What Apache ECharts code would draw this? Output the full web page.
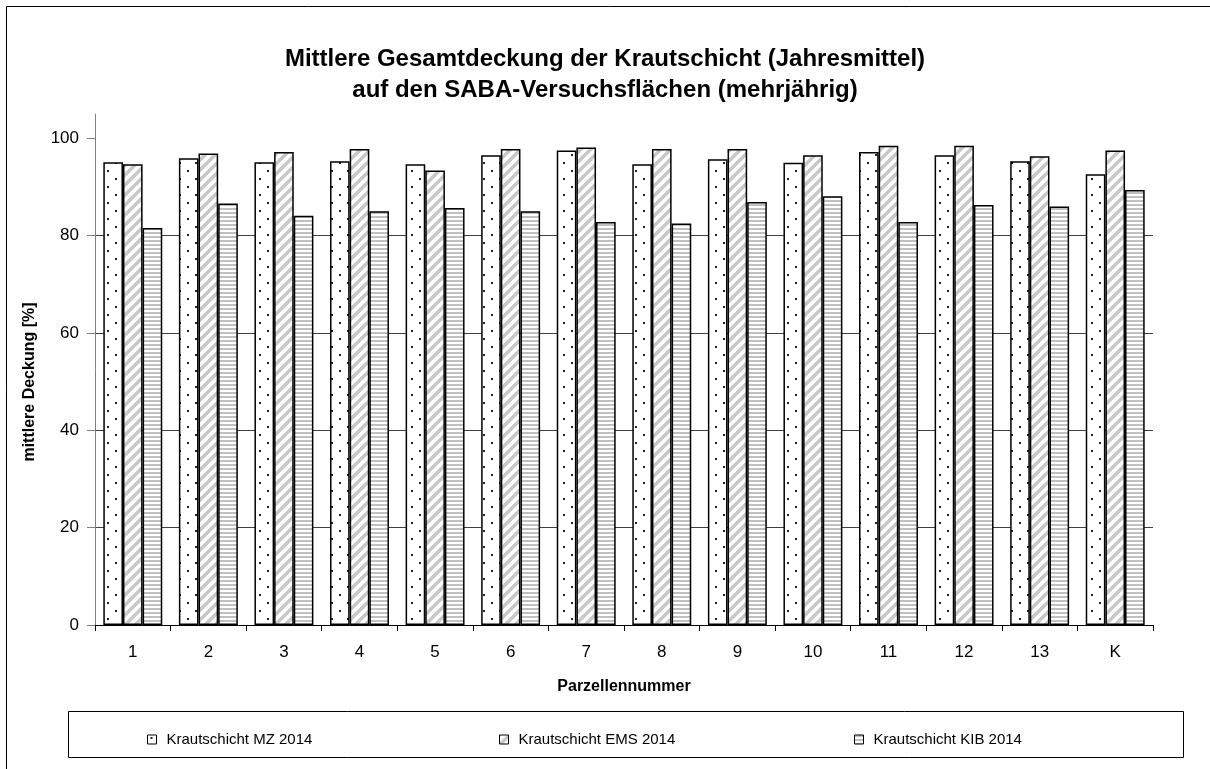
<!DOCTYPE html>
<html>
<head>
<meta charset="utf-8">
<script src="https://cdn.jsdelivr.net/npm/echarts@6/dist/echarts.min.js"></script>
<style>
html,body{margin:0;padding:0;background:#fff;}
#chart{width:1210px;height:769px;}
</style>
</head>
<body>
<div id="chart"></div>
<script>
const categories = ['1','2','3','4','5','6','7','8','9','10','11','12','13','K'];
const seriesNames = ['Krautschicht MZ 2014','Krautschicht EMS 2014','Krautschicht KIB 2014'];
const mz2014  = [95.1, 95.9, 95.1, 95.3, 94.7, 96.5, 97.5, 94.7, 95.7, 95.0, 97.2, 96.5, 95.3, 92.6];
const ems2014 = [94.7, 96.9, 97.2, 97.8, 93.4, 97.8, 98.1, 97.8, 97.8, 96.5, 98.5, 98.5, 96.3, 97.5];
const kib2014 = [81.6, 86.6, 84.1, 85.0, 85.7, 85.0, 82.8, 82.5, 86.9, 88.1, 82.8, 86.3, 86.0, 89.4];
const yTicks = [0, 20, 40, 60, 80, 100];

const FONT = 'Liberation Sans, Arial, sans-serif';

function makeTile(w, h, draw) {
  const c = document.createElement('canvas');
  c.width = w; c.height = h;
  const ctx = c.getContext('2d');
  ctx.fillStyle = '#ffffff';
  ctx.fillRect(0, 0, w, h);
  draw(ctx);
  return { image: c, repeat: 'repeat' };
}
const dotPattern = makeTile(16, 16, ctx => {
  ctx.fillStyle = '#222222';
  ctx.fillRect(3, 2, 2, 2);
  ctx.fillRect(11, 10, 2, 2);
});
const diagPattern = makeTile(10, 10, ctx => {
  ctx.strokeStyle = '#c8c8c8';
  ctx.lineWidth = 3.5;
  ctx.beginPath();
  ctx.moveTo(-3, 13); ctx.lineTo(13, -3);
  ctx.moveTo(-8, 8); ctx.lineTo(8, -8);
  ctx.moveTo(2, 18); ctx.lineTo(18, 2);
  ctx.stroke();
});
const horizPattern = makeTile(4, 4, ctx => {
  ctx.fillStyle = '#c0c0c0';
  ctx.fillRect(0, 0, 4, 2);
});
const patterns = [dotPattern, diagPattern, horizPattern];
const values = [mz2014, ems2014, kib2014];

const chart = echarts.init(document.getElementById('chart'), null, {renderer: 'canvas'});

const series = seriesNames.map((name, i) => ({
  name: name,
  type: 'bar',
  data: values[i],
  barGap: '0%',
  barCategoryGap: '22%',
  itemStyle: { color: patterns[i], borderColor: '#000', borderWidth: 1.5 },
  emphasis: { disabled: true },
  animation: false
}));

const legendLefts = [142, 494, 849];
const legends = seriesNames.map((name, i) => ({
  data: [{ name: name, icon: 'rect' }],
  left: legendLefts[i],
  top: 727,
  itemWidth: 9,
  itemHeight: 9,
  itemGap: 0,
  selectedMode: false,
  textStyle: { fontSize: 15, fontFamily: FONT, color: '#000', padding: [0, 0, 0, 5] },
  itemStyle: { borderColor: '#000', borderWidth: 1 }
}));

chart.setOption({
  animation: false,
  backgroundColor: '#ffffff',
  title: {
    text: 'Mittlere Gesamtdeckung der Krautschicht (Jahresmittel)\nauf den SABA-Versuchsflächen (mehrjährig)',
    left: 'center',
    top: 39,
    textStyle: { fontSize: 24, fontWeight: 'bold', fontFamily: FONT, color: '#000', lineHeight: 31 }
  },
  legend: legends,
  grid: { left: 95, right: 57, top: 114, bottom: 144, containLabel: false },
  xAxis: {
    type: 'category',
    data: categories,
    axisLine: { show: true, lineStyle: { color: '#000', width: 1 } },
    axisTick: { show: true, length: 6, alignWithLabel: false, lineStyle: { color: '#000' } },
    axisLabel: { fontSize: 17, fontFamily: FONT, color: '#000', margin: 19 },
    splitLine: { show: false }
  },
  yAxis: {
    type: 'value',
    min: 0,
    max: 105,
    interval: 20,
    axisLine: { show: true, lineStyle: { color: '#808080', width: 1 } },
    axisTick: { show: true, length: 8, inside: false, lineStyle: { color: '#808080' }, customValues: yTicks },
    axisLabel: { fontSize: 17, fontFamily: FONT, color: '#000', margin: 16, customValues: yTicks },
    splitLine: { show: true, showMaxLine: false, lineStyle: { color: '#404040', width: 1 } }
  },
  series: series,
  graphic: [
    { type: 'rect', shape: { x: 6.5, y: 6.5, width: 1300, height: 900 }, style: { fill: null, stroke: '#000', lineWidth: 1 }, silent: true, z: -10 },
    { type: 'rect', shape: { x: 68.5, y: 711.5, width: 1115, height: 46 }, style: { fill: null, stroke: '#000', lineWidth: 1 }, silent: true },
    { type: 'text', x: 30, y: 382, rotation: Math.PI / 2, style: { text: 'mittlere Deckung [%]', font: 'bold 16px ' + FONT, fill: '#000', textAlign: 'center', textVerticalAlign: 'middle' }, silent: true },
    { type: 'text', x: 624, y: 687, style: { text: 'Parzellennummer', font: 'bold 16px ' + FONT, fill: '#000', textAlign: 'center', textVerticalAlign: 'middle' }, silent: true }
  ]
});
</script>
</body>
</html>
